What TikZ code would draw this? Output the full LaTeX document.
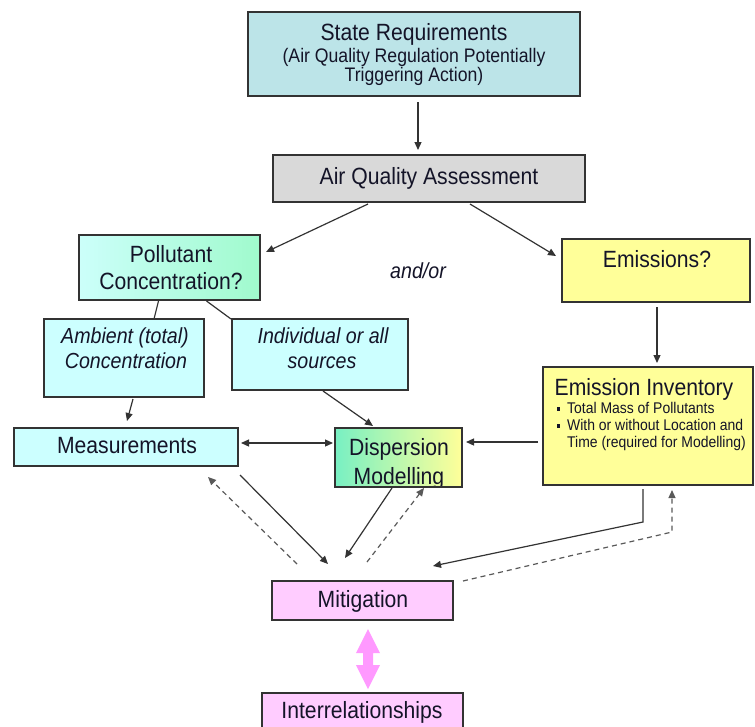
\documentclass[tikz,border=0pt]{standalone}
\usepackage{fontspec}
\setmainfont[FakeStretch=0.9]{Liberation Sans}
\usetikzlibrary{arrows.meta,calc}
\definecolor{tealbox}{RGB}{188,228,232}
\definecolor{graybox}{RGB}{217,217,217}
\definecolor{cyanbox}{RGB}{204,255,255}
\definecolor{pcleft}{RGB}{204,255,250}
\definecolor{pcright}{RGB}{160,250,205}
\definecolor{dleft}{RGB}{120,240,195}
\definecolor{yellowbox}{RGB}{255,255,153}
\definecolor{pinkbox}{RGB}{255,204,255}
\definecolor{pinkarrow}{RGB}{255,153,255}
\definecolor{ink}{RGB}{20,20,40}
\newcommand\fsmain{\fontsize{23.5}{28}\selectfont}
\newcommand\fssub{\fontsize{19.6}{23}\selectfont}
\newcommand\fsital{\fontsize{21.8}{25}\selectfont\itshape}
\newcommand\fsbul{\fontsize{15.5}{18}\selectfont}
\newcommand\bul{\llap{\rule[2.5pt]{3.6pt}{3.6pt}\hspace{7pt}}}
\begin{document}
\begin{tikzpicture}[x=1pt,y=-1pt,
  box/.style={draw=black!80, line width=1.3pt, inner sep=0pt, outer sep=0pt, anchor=north west},
  txt/.style={inner sep=0pt, anchor=base, text=ink, font=\fsmain},
  bultxt/.style={inner sep=0pt, anchor=base west, text=ink, font=\fsbul},
  arr/.style={draw=black!80, line width=1.2pt, -{Triangle[length=8pt,width=7pt]}},
  dsh/.style={arr, draw=black!65, dash pattern=on 5pt off 4pt},
  ln/.style={draw=black!80, line width=1.2pt}]
\useasboundingbox (0,0) rectangle (755,726);

% boxes
\node[box, fill=tealbox, minimum width=332pt, minimum height=84pt] (sr) at (248,12) {};
\node[box, fill=graybox, minimum width=312pt, minimum height=47pt] (aqa) at (273,155) {};
\node[box, left color=pcleft, right color=pcright, minimum width=181pt, minimum height=65pt] (pc) at (79,235) {};
\node[box, fill=yellowbox, minimum width=188pt, minimum height=63pt] (em) at (562,239) {};
\node[box, fill=cyanbox, minimum width=160pt, minimum height=78pt] (amb) at (44,319) {};
\node[box, fill=cyanbox, minimum width=176pt, minimum height=71pt] (ind) at (232,319) {};
\node[box, fill=cyanbox, minimum width=224pt, minimum height=38pt] (meas) at (14,428) {};
\node[box, left color=dleft, right color=yellowbox, minimum width=127pt, minimum height=59pt] (disp) at (335,428) {};
\node[box, fill=yellowbox, minimum width=210pt, minimum height=118pt] (ei) at (543,367) {};
\node[box, fill=pinkbox, minimum width=181pt, minimum height=39pt] (mit) at (272,581) {};
\node[box, fill=pinkbox, minimum width=201pt, minimum height=40pt] (inter) at (262,693) {};

% texts
\node[txt] (sr1) at (414,40) {State Requirements};
\node[txt, font=\fssub] (sr2) at (414,62) {(Air Quality Regulation Potentially};
\node[txt, font=\fssub] (sr3) at (414,81) {Triggering Action)};
\node[txt] (aqat) at (429,184) {Air Quality Assessment};
\node[txt] (pc1) at (171,262) {Pollutant};
\node[txt] (pc2) at (171,289) {Concentration?};
\node[txt] (emt) at (657,267) {Emissions?};
\node[txt, font=\fsital] (andor) at (418,278) {and/or};
\node[txt, font=\fsital] (amb1) at (125,343) {Ambient (total)};
\node[txt, font=\fsital] (amb2) at (126,368) {Concentration};
\node[txt, font=\fsital] (ind1) at (323,343) {Individual or all};
\node[txt, font=\fsital] (ind2) at (322,368) {sources};
\node[txt] (meast) at (127,453) {Measurements};
\begin{scope}
  \clip ($(disp.south west)+(0,-1.5)$) rectangle (disp.north east);
  \node[txt] (disp1) at (399,455) {Dispersion};
  \node[txt] (disp2) at (399,484) {Modelling};
\end{scope}
\node[txt] (eit) at (644,395) {Emission Inventory};
\node[bultxt] (eib1) at (567,413) {\bul Total Mass of Pollutants};
\node[bultxt] (eib2) at (567,430) {\bul With or without Location and};
\node[bultxt] (eib3) at (567,447) {Time (required for Modelling)};
\node[txt] (mitt) at (363,607) {Mitigation};
\node[txt] (intert) at (362,718) {Interrelationships};

% connectors
\draw[arr] ($(sr.south)+(4,6)$) -- ($(aqa.north)+(-11,-5)$);
\draw[arr] ($(aqa.south west)+(95,2)$) -- ($(pc.east)+(6,-15.5)$);
\draw[arr] ($(aqa.south east)+(-115,2)$) -- ($(em.west)+(-6,-14.5)$);
\draw[ln] ($(pc.south)+(-11,1)$) -- ($(amb.north)+(30,0)$);
\draw[ln] ($(pc.south)+(37,1)$) -- ($(ind.north west)+(-1,0)$);
\draw[arr] ($(amb.south)+(9,2)$) -- ($(meas.north)+(1,-7)$);
\draw[arr] ($(ind.south)+(3,1)$) -- ($(disp.north west)+(38,-2)$);
\draw[arr, {Triangle[length=8pt,width=7pt]}-{Triangle[length=8pt,width=7pt]}] ($(meas.east)+(3,-4)$) -- ($(disp.west)+(-2,-14.5)$);
\draw[arr] ($(ei.west)+(-5,16)$) -- ($(disp.east)+(4,-15.5)$);
\draw[arr] ($(em.south)+(1,5)$) -- ($(ei.north)+(9,-4)$);

\draw[dsh] ($(mit.north)+(-65.5,-17)$) -- ($(meas.south east)+(-30,11)$);
\draw[arr] ($(meas.south east)+(2,9)$) -- ($(mit.north)+(-34.5,-17)$);
\draw[arr] ($(disp.south)+(-6.5,1)$) -- ($(mit.north)+(-17.5,-23)$);
\draw[dsh] ($(mit.north)+(4.5,-19)$) -- ($(disp.south)+(25.5,1)$);
\draw[arr] ($(ei.south)+(-5,4)$) -- ($(ei.south)+(-5,37)$) -- ($(mit.north east)+(-20,-15)$);
\draw[dsh] ($(mit.north east)+(10,0)$) -- ($(ei.south)+(24,47)$) -- ($(ei.south)+(24,5)$);

% fat pink double arrow
\coordinate (dt) at ($(mit.south)+(5.5,9)$);
\fill[pinkarrow, shift={(dt)}] (0,0) -- (12,24) -- (5,24) -- (5,36) -- (12,36) -- (0,60)
  -- (-12,36) -- (-5,36) -- (-5,24) -- (-12,24) -- cycle;
\end{tikzpicture}
\end{document}
